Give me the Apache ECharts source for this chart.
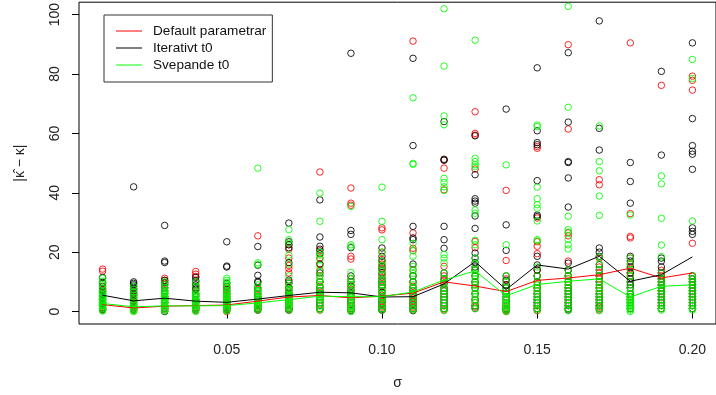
<!DOCTYPE html>
<html>
<head>
<meta charset="utf-8">
<script src="https://cdn.jsdelivr.net/npm/echarts@6/dist/echarts.min.js"></script>
<style>
  html, body { margin: 0; padding: 0; background: #fff; }
  #main { width: 716px; height: 395px; }
</style>
</head>
<body>
<div id="main"></div>
<script>
var sigma = [0.01, 0.02, 0.03, 0.04, 0.05, 0.06, 0.07, 0.08, 0.09, 0.10,
             0.11, 0.12, 0.13, 0.14, 0.15, 0.16, 0.17, 0.18, 0.19, 0.20];
var xTicks = [0.05, 0.10, 0.15, 0.20];
var yTicks = [0, 20, 40, 60, 80, 100];
var names = ['Default parametrar', 'Iterativt t0', 'Svepande t0'];

// |kappa_hat - kappa| for each sigma, one list per sigma
var defaultPts = [
    [14.3, 13.6, 9.5, 7.5, 6.5, 5, 4, 3.2, 2.5, 2, 1.5, 1.2, 0.8, 0.5],
    [7.6, 6.5, 5.8, 5, 4, 3, 2, 1.5, 1, 0.6, 0.3],
    [11.2, 10.5, 9.5, 8, 6.5, 5, 4, 3, 2, 1.5, 1, 0.5],
    [13.5, 12.6, 11.8, 8.5, 7, 5.5, 4, 3, 2, 1.5, 1, 0.5],
    [8, 7.5, 6.5, 5.5, 4.5, 3.5, 3, 2.5, 2, 1.5, 1, 0.5, 0],
    [25.5, 7.5, 6, 5, 4, 3, 2.5, 2, 1.5, 1, 0.5],
    [22.5, 21, 18, 15.5, 14.5, 13, 10, 8, 6.5, 5.5, 4.5, 3.5, 2.5, 1.5, 1, 0.5],
    [47, 20.5, 18, 16, 14, 12, 10, 8.5, 7, 6, 5, 4, 3, 2, 1, 0.5],
    [41.6, 36.5, 35.8, 18.6, 17.7, 11, 9, 7.5, 6, 5, 4, 3, 2, 1.5, 1, 0.5],
    [28.2, 27.5, 20, 17.5, 16, 14.5, 13, 11.5, 10, 8.5, 7, 5.5, 4.5, 3.5, 2.5, 1.5, 0.5],
    [91.1, 26.5, 21.3, 20.5, 14, 12, 10, 8.5, 7, 5.5, 4.5, 3.5, 2.5, 1.5, 0.5],
    [51, 48.3, 41, 15.2, 12, 10.5, 9.5, 8, 7, 6, 5, 4, 3, 2, 1, 0.5],
    [67.3, 60, 59.4, 48, 23.6, 21.5, 14, 12, 10, 9, 8, 6, 4, 3, 2, 1.5],
    [40.8, 17.2, 11, 9, 8, 7, 6, 5, 4, 3, 2, 1.5, 1, 0.5, 0],
    [55.6, 55, 31.5, 23.5, 22, 19.5, 14, 12, 10, 9, 8, 7, 6, 4, 3, 2, 1, 0.3],
    [89.9, 61.5, 26.5, 25.5, 17, 14, 12, 11, 10, 9, 8, 7, 6, 5, 4, 3, 2, 1],
    [44.4, 42.7, 18, 15, 13, 12, 11, 10, 9, 8, 7, 6, 5, 4, 3, 2, 1.5, 0.5],
    [90.5, 33, 25.3, 24.8, 18, 16, 14.5, 13, 12, 10, 8, 6, 5, 4, 3, 2, 1],
    [76.2, 13.9, 13, 12, 11, 10, 9, 8, 7, 6, 5, 4, 3, 2, 1],
    [79.3, 77.9, 74.6, 23, 12, 11, 10, 9, 8, 7, 6, 5, 4, 3, 2, 1]
];
var iterPts = [
    [11.5, 9.8, 8.5, 7.2, 6.8, 6, 5.5, 4.5, 3.8, 3, 2.5, 2, 1.2, 0.6],
    [42, 10, 9.5, 9, 8.5, 7.8, 7, 6, 5.5, 4.5, 3.5, 2.5, 1.5, 0.8],
    [29, 17, 16.5, 10.5, 9.8, 9, 8, 7, 6, 5, 4, 3, 2, 1, 0],
    [11.5, 10.5, 10, 9, 8, 7.5, 6, 5, 4, 3, 2, 1.2, 0.5],
    [23.5, 15.3, 15, 9.5, 8.5, 7, 6, 5, 4, 3, 2, 1.5, 1, 0.5],
    [21.9, 15.6, 12.2, 10.2, 9.8, 8, 7, 6, 5, 4, 3, 2, 1, 0.5],
    [29.8, 23.5, 22.5, 21.5, 16.5, 10.6, 9.5, 8, 7, 6, 5, 4, 3, 2, 1, 0.5],
    [37.6, 25.1, 22, 21, 19.5, 16, 13, 10, 8, 7, 6, 5, 4, 3, 2, 1],
    [87, 27.3, 26, 21.5, 12, 10, 8.5, 7, 6, 5, 4, 3, 2, 1, 0.3],
    [21.4, 18.6, 17, 15.2, 14, 12.5, 11, 10, 9, 8, 6.5, 5, 4, 3, 2, 1, 0.5],
    [85.3, 55.9, 28.7, 24.8, 24.2, 16, 12, 10, 8, 7, 6, 5, 4, 3, 2, 1, 0.3],
    [64, 51.3, 51, 28.7, 24.2, 21.3, 13, 11, 9.5, 8, 7, 6, 5, 4, 3, 2, 1],
    [59.2, 46.1, 38, 37.2, 36.5, 32.2, 28, 19.7, 18, 16.5, 15, 14, 12, 10, 8, 6, 4, 2, 1],
    [68.2, 29.2, 20.6, 12, 10.5, 9, 8, 7, 6, 5, 4, 3, 2, 1, 0.5],
    [82.1, 60.9, 56.9, 56.2, 44.1, 32.5, 32, 18.6, 15.7, 14, 12, 10, 8, 6, 5, 4, 3, 2, 1],
    [87.2, 63.8, 50.5, 50.2, 45, 35.2, 16.3, 14, 12, 10, 8, 7, 6, 5, 4, 3, 2, 1, 0.5],
    [97.9, 61.7, 54.4, 21.4, 20, 18.6, 15.8, 14, 12, 10, 8, 6, 5, 4, 3, 2, 1],
    [50.2, 43.8, 36.5, 18.6, 17, 15, 13, 11, 10, 9, 8, 6, 5, 4, 3, 2, 1],
    [80.9, 52.7, 18, 17, 15, 13, 11, 10, 9, 8, 7, 6, 5, 4, 3, 2, 1],
    [90.5, 65, 55.9, 54, 53, 47.9, 28.2, 27, 26, 12, 11, 10, 9, 8, 7, 6, 5, 4, 3, 2, 1]
];
var svepPts = [
    [11.2, 10.2, 9, 7.8, 6.8, 6.2, 5.5, 5, 4.5, 4, 3.5, 3, 2.5, 2, 1.5, 1, 0.5, 0.2],
    [8.5, 7.5, 6.5, 5.5, 4.8, 4, 3.2, 2.5, 2, 1.5, 1, 0.6, 0.3, 0],
    [10, 9, 8, 7, 6.5, 6, 5.5, 5, 4.5, 4, 3.5, 3, 2.5, 2, 1.5, 1, 0.5, 0.2],
    [10, 8.5, 7, 6, 5.5, 5, 4.5, 4, 3.5, 3, 2.5, 2, 1.5, 1, 0.5, 0],
    [11.2, 10.5, 9.8, 9, 8, 7, 6.5, 6, 5.5, 5, 4.5, 4, 3.5, 3, 2.5, 2, 1.5, 1, 0.5, 0.2],
    [48.3, 16.4, 15.8, 9, 8, 7, 6.5, 6, 5, 4.5, 4, 3.5, 3, 2.5, 2, 1.5, 1, 0.5],
    [27.6, 24.2, 23, 19, 16, 12, 9.5, 8.5, 7.5, 7, 6, 5.5, 5, 4.5, 4, 3.5, 3, 2.5, 2, 1.5, 1, 0.5],
    [39.9, 30.4, 20, 19, 17.5, 15.5, 13.5, 12, 11, 10, 9, 8, 7, 6, 5.5, 5, 4.5, 4, 3, 2, 1, 0.5],
    [35.4, 22.5, 21.8, 13.2, 11, 10, 9, 8, 7, 6, 5.5, 5, 4.5, 4, 3, 2, 1.5, 1, 0.5, 0],
    [41.9, 30.4, 24.2, 20, 17, 15.5, 14, 12.5, 11, 10, 9, 8, 7, 6, 5, 4.5, 4, 3, 2, 1, 0.5],
    [72, 49.9, 49.6, 23, 20.5, 18.6, 15.2, 14, 12.8, 11.9, 10, 9, 8, 7, 6, 5, 4, 3, 2, 1, 0.5],
    [102, 82.7, 65.9, 62.9, 44.9, 43.5, 42, 40.8, 19.2, 18, 16.4, 13, 11, 9.5, 8, 7, 6, 5, 4, 3, 2, 1, 0.3],
    [91.4, 51.6, 50.5, 49.5, 48.8, 34.2, 33.1, 24, 22.5, 18, 16, 14, 13, 12, 11, 10, 9, 8, 7, 6, 5, 4, 3, 2, 1],
    [49.4, 22.5, 12, 10, 8, 7, 6, 5, 4.5, 4, 3, 2.5, 2, 1.5, 1, 0.5, 0],
    [62.8, 62.3, 41.9, 38, 36, 34.8, 30.5, 24.2, 23.8, 15, 12, 10, 9, 8, 7, 6, 5, 4, 3, 2, 1, 0.5],
    [102.8, 68.8, 32.1, 27.6, 26.8, 24.3, 22.5, 21.1, 14, 12, 11, 10, 9, 8, 7, 6, 5, 4, 3, 2, 1, 0.3],
    [62.5, 50.5, 47.4, 38.9, 32.4, 18.4, 16, 14, 12, 10, 9, 8, 7, 6, 5, 4, 3, 2, 1, 0.3],
    [32.5, 18, 16, 14, 12, 10, 8, 7, 6, 5, 4.5, 4, 3.5, 3, 2.5, 2, 1.5, 1, 0.5, 0],
    [45.7, 43, 31.4, 22.4, 18.5, 13, 11, 10, 9, 8, 7, 6, 5, 4, 3, 2, 1, 0.5],
    [84.9, 78.5, 30.5, 12, 11, 10, 9, 8, 7, 6, 5, 4, 3, 2, 1, 0.5]
];

// mean curves
var defaultMean = [2.35, 1.2, 1.8, 2.0, 2.2, 3.5, 4.9, 5.4, 4.6, 5.2, 6.2, 10.0, 8.6, 6.7, 10.5, 11.3, 12.4, 14.6, 11.3, 13.0];
var iterMean = [5.5, 3.6, 4.5, 3.5, 3.1, 4.2, 5.4, 6.5, 6.3, 4.9, 5.0, 9.3, 16.8, 7.4, 15.7, 14.3, 18.6, 10.2, 12.4, 18.4];
var svepMean = [2.7, 1.6, 1.9, 1.9, 2.0, 2.9, 4.0, 5.2, 5.0, 5.0, 6.6, 10.6, 13.7, 5.3, 9.1, 10.2, 11.0, 4.9, 8.5, 9.0];

var colors = ['#ff0000', '#000000', '#00ff00'];
var font = 'Liberation Sans, Arial, sans-serif';

function points(pts) {
    var out = [];
    for (var i = 0; i < pts.length; i++) {
        for (var j = 0; j < pts[i].length; j++) {
            out.push([sigma[i], pts[i][j]]);
        }
    }
    return out;
}
function curve(m) {
    return sigma.map(function (s, i) { return [s, m[i]]; });
}

var myChart = echarts.init(document.getElementById('main'));
var allPts = [defaultPts, iterPts, svepPts];
var allMean = [defaultMean, iterMean, svepMean];
var series = [];
for (var k = 0; k < 3; k++) {
    series.push({
        name: names[k],
        type: 'line',
        data: curve(allMean[k]),
        showSymbol: false,
        z: 4,
        lineStyle: { color: colors[k], width: 1 },
        itemStyle: { color: colors[k] }
    });
}
for (var k = 0; k < 3; k++) {
    series.push({
        name: names[k] + ' pts',
        type: 'scatter',
        data: points(allPts[k]),
        symbol: 'circle',
        symbolSize: 6.5,
        z: 2 + k * 0.1,
        itemStyle: { color: 'rgba(0,0,0,0)', borderColor: colors[k], borderWidth: 1, opacity: 0.85 }
    });
}

var option = {
    animation: false,
    backgroundColor: '#fff',
    grid: {
        left: 79, top: 2, width: 645, height: 322,
        show: true, borderColor: '#000', borderWidth: 1, backgroundColor: 'transparent'
    },
    legend: {
        data: names,
        orient: 'vertical',
        left: 104, top: 15,
        padding: [9, 6, 10, 12],
        itemGap: 3,
        itemWidth: 26, itemHeight: 1,
        icon: 'rect',
        borderColor: '#333', borderWidth: 1,
        textStyle: { fontFamily: font, fontSize: 13.6, color: '#111', lineHeight: 14, padding: [0, 0, 0, 6] }
    },
    xAxis: {
        type: 'value',
        min: 0.0024, max: 0.2076,
        name: 'σ',
        nameLocation: 'middle',
        nameGap: 52,
        nameTextStyle: { fontFamily: font, fontSize: 14, color: '#222' },
        axisLine: { show: false },
        splitLine: { show: false },
        axisTick: { show: true, length: 7, customValues: xTicks, lineStyle: { color: '#000' } },
        axisLabel: {
            customValues: xTicks, margin: 19,
            fontFamily: font, fontSize: 14, color: '#222',
            formatter: function (v) { return v.toFixed(2); }
        }
    },
    yAxis: {
        type: 'value',
        min: -4.2, max: 104.2,
        name: '|κ̂ − κ|',
        nameLocation: 'middle',
        nameRotate: 90,
        nameGap: 52,
        nameTextStyle: { fontFamily: font, fontSize: 14, color: '#222' },
        axisLine: { show: false },
        splitLine: { show: false },
        axisTick: { show: true, length: 7, customValues: yTicks, lineStyle: { color: '#000' } },
        axisLabel: {
            customValues: yTicks, margin: 17, rotate: 90,
            fontFamily: font, fontSize: 14, color: '#222'
        }
    },
    series: series
};
myChart.setOption(option);
</script>
</body>
</html>
